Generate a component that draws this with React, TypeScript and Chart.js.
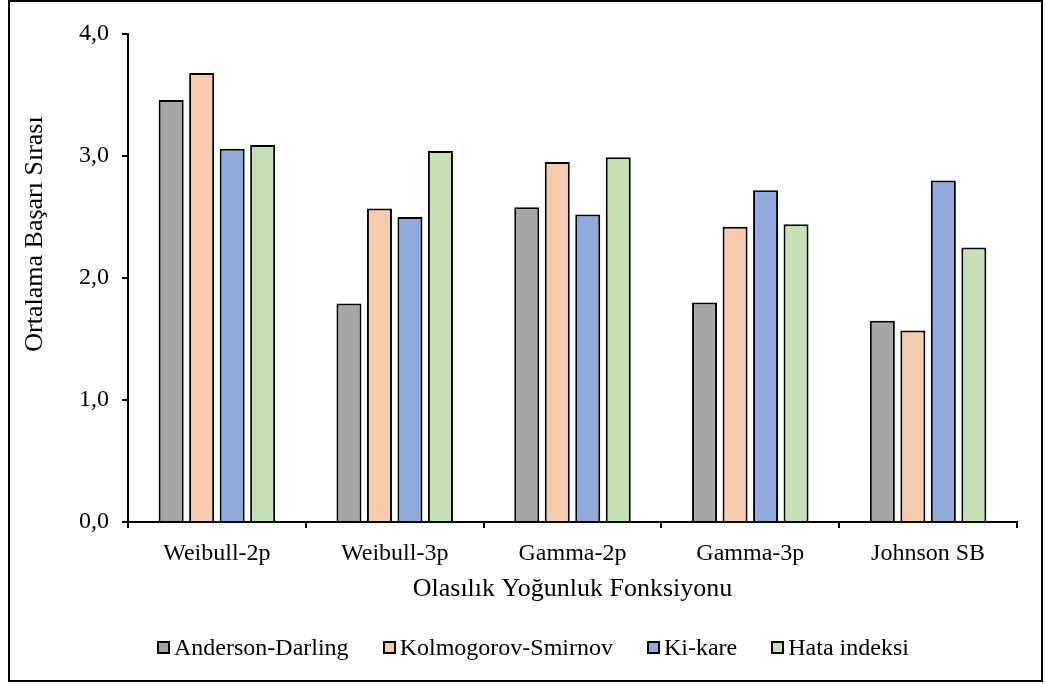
import React, { useEffect, useRef } from "react";
import { Chart, registerables } from "chart.js";

Chart.register(...registerables);

const categories = ["Weibull-2p", "Weibull-3p", "Gamma-2p", "Gamma-3p", "Johnson SB"];
const seriesNames = ["Anderson-Darling", "Kolmogorov-Smirnov", "Ki-kare", "Hata indeksi"];
const andersonDarling = [3.46, 1.79, 2.58, 1.8, 1.65];
const kolmogorovSmirnov = [3.68, 2.57, 2.95, 2.42, 1.57];
const kiKare = [3.06, 2.5, 2.52, 2.72, 2.8];
const hataIndeksi = [3.09, 3.04, 2.99, 2.44, 2.25];
const seriesColors = ["#A5A5A5", "#F8CBAD", "#8FAADC", "#C5E0B4"];
const yTitle = "Ortalama Başarı Sırası";
const xTitle = "Olasılık Yoğunluk Fonksiyonu";

const FONT = "'Liberation Serif', 'Times New Roman', serif";

const yTitlePlugin = {
  id: "yTitlePlugin",
  afterDraw(chart: any) {
    const ctx = chart.ctx;
    ctx.save();
    ctx.translate(25, 232);
    ctx.rotate(-Math.PI / 2);
    ctx.font = `26px ${FONT}`;
    ctx.fillStyle = "#000";
    ctx.textAlign = "center";
    ctx.textBaseline = "middle";
    ctx.fillText(yTitle, 0, 0);
    ctx.restore();
  },
};

export default function App() {
  const ref = useRef<HTMLCanvasElement | null>(null);

  useEffect(() => {
    if (!ref.current) return;
    const values = [andersonDarling, kolmogorovSmirnov, kiKare, hataIndeksi];
    const chart = new Chart(ref.current, {
      type: "bar",
      data: {
        labels: categories,
        datasets: seriesNames.map((name, i) => ({
          label: name,
          data: values[i],
          backgroundColor: seriesColors[i],
          borderColor: "#000",
          borderWidth: 2,
          categoryPercentage: 0.686,
          barPercentage: 0.82,
        })),
      },
      options: {
        animation: false,
        responsive: false,
        maintainAspectRatio: false,
        layout: { padding: { top: 32, right: 24, bottom: 75, left: 0 } },
        plugins: {
          legend: { display: false },
          tooltip: { enabled: false },
        },
        scales: {
          x: {
            offset: true,
            grid: {
              offset: true,
              drawOnChartArea: false,
              drawTicks: true,
              tickLength: 6,
              color: "#000",
              lineWidth: 2,
            },
            border: { display: true, color: "#000", width: 2 },
            ticks: {
              color: "#000",
              font: { family: FONT, size: 24 },
              padding: 11,
              maxRotation: 0,
            },
            title: {
              display: true,
              text: xTitle,
              color: "#000",
              font: { family: FONT, size: 26 },
              padding: { top: 0, bottom: 0 },
            },
            afterFit: (s: any) => {
              s.height = 83;
            },
          },
          y: {
            min: 0,
            max: 4,
            grid: {
              drawOnChartArea: false,
              drawTicks: true,
              tickLength: 6,
              color: "#000",
              lineWidth: 2,
            },
            border: { display: true, color: "#000", width: 2 },
            ticks: {
              stepSize: 1,
              color: "#000",
              font: { family: FONT, size: 24 },
              padding: 13,
              callback: (v: any) => Number(v).toFixed(1).replace(".", ","),
            },
            afterFit: (s: any) => {
              s.width = 118;
            },
          },
        },
      },
      plugins: [yTitlePlugin],
    });
    return () => chart.destroy();
  }, []);

  return (
    <div
      style={{
        position: "absolute",
        left: 8,
        top: 0,
        width: 1035,
        height: 682,
        boxSizing: "border-box",
        border: "2px solid #000",
        background: "#fff",
      }}
    >
      <canvas ref={ref} width={1031} height={678} style={{ display: "block" }} />
      <div
        style={{
          position: "absolute",
          left: 147,
          top: 631,
          display: "flex",
          alignItems: "center",
          gap: 34,
          fontFamily: FONT,
          fontSize: 24,
          lineHeight: "28px",
          color: "#000",
          whiteSpace: "nowrap",
        }}
      >
        {seriesNames.map((name, i) => (
          <div key={name} style={{ display: "flex", alignItems: "center" }}>
            <span
              style={{
                display: "inline-block",
                width: 13,
                height: 13,
                boxSizing: "border-box",
                border: "2px solid #000",
                background: seriesColors[i],
                marginRight: 4,
              }}
            />
            <span>{name}</span>
          </div>
        ))}
      </div>
    </div>
  );
}
